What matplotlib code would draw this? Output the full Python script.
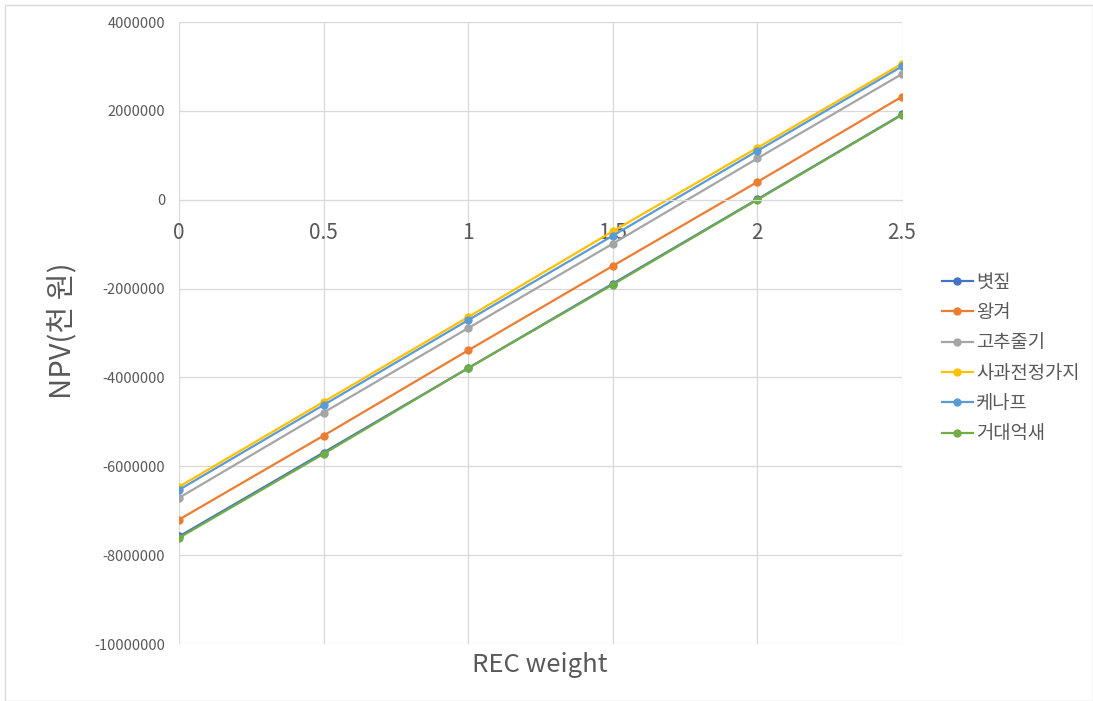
import matplotlib
matplotlib.use("Agg")
import matplotlib.pyplot as plt
from matplotlib.patches import Rectangle

plt.rcParams['font.family'] = ['Noto Sans CJK KR', 'DejaVu Sans']

x_vals = [0, 0.5, 1, 1.5, 2, 2.5]
series_names = ["볏짚", "왕겨", "고추줄기", "사과전정가지", "케나프", "거대억새"]
s_byeotjip = [-7580000, -5690000, -3790000, -1890000, 10000, 1920000]
s_wanggyeo = [-7200000, -5310000, -3390000, -1490000, 400000, 2320000]
s_gochu = [-6710000, -4790000, -2890000, -990000, 930000, 2830000]
s_sagwa = [-6460000, -4550000, -2640000, -710000, 1170000, 3060000]
s_kenaf = [-6530000, -4620000, -2710000, -810000, 1100000, 3000000]
s_geodae = [-7610000, -5720000, -3790000, -1910000, 0, 1910000]
all_series = [s_byeotjip, s_wanggyeo, s_gochu, s_sagwa, s_kenaf, s_geodae]
colors = ["#4472C4", "#ED7D31", "#A5A5A5", "#FFC000", "#5B9BD5", "#70AD47"]
y_ticks = list(range(-10000000, 4000001, 2000000))
x_ticks = [0, 0.5, 1, 1.5, 2, 2.5]
x_ticklabels = ["0", "0.5", "1", "1.5", "2", "2.5"]

W, H = 1093, 701
fig = plt.figure(figsize=(W / 100, H / 100), dpi=100)
fig.patches.append(Rectangle((5 / W, 0), 1 - 5 / W, 1 - 5 / H, transform=fig.transFigure,
                             fill=False, edgecolor="#D9D9D9", linewidth=1))
ax = fig.add_axes([179 / W, 1 - 644 / H, (902 - 179) / W, (644 - 22) / H])

for s in ["top", "right", "left"]:
    ax.spines[s].set_visible(False)
ax.spines["bottom"].set_position(("data", 0))
ax.spines["bottom"].set_color("#D9D9D9")

for name, ys, c in zip(series_names, all_series, colors):
    ax.plot(x_vals, ys, color=c, linewidth=1.6, marker="o", markersize=5, label=name)

ax.set_xlim(0, 2.5)
ax.set_ylim(-10000000, 4000000)
ax.set_yticks(y_ticks)
ax.set_yticklabels([str(v) for v in y_ticks], fontsize=10.5, color="#595959")
ax.set_xticks(x_ticks)
ax.set_xticklabels(x_ticklabels, fontsize=15, color="#595959")
ax.grid(True, color="#D9D9D9", linewidth=0.9)
ax.set_axisbelow(True)
ax.tick_params(axis="both", length=0)
ax.tick_params(axis="x", pad=16)
ax.tick_params(axis="y", pad=10)

fig.text(62 / W, 1 - 331 / H, "NPV(천 원)", rotation=90, fontsize=21, color="#595959",
         ha="center", va="center")
fig.text(540 / W, 1 - 665 / H, "REC weight", fontsize=18.5, color="#595959",
         ha="center", va="center")

leg = ax.legend(loc="upper left", bbox_to_anchor=(934 / W, 1 - 264 / H), bbox_transform=fig.transFigure,
                frameon=False, fontsize=13.5, handlelength=1.7, handletextpad=0.15,
                labelspacing=0.5, borderaxespad=0)
for t in leg.get_texts():
    t.set_color("#595959")

fig.savefig("out.png", dpi=100)
